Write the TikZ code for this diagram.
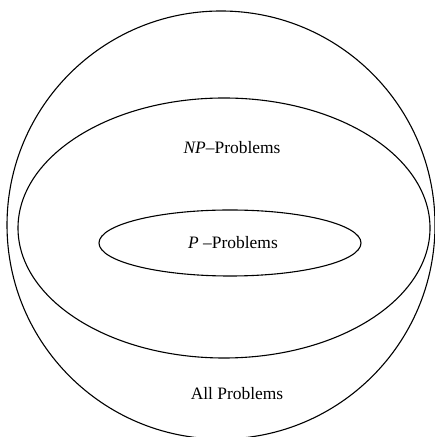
\documentclass[tikz,border=0pt]{standalone}
\usepackage{fontspec}
\setmainfont{Liberation Serif}
\begin{document}
\begin{tikzpicture}[x=1bp, y=1bp, line width=1.1bp,
    setlabel/.style={font=\fontsize{17.5}{20}\selectfont, inner sep=0pt}]
    % Frame
    \clip (0, 0) rectangle (435, 437);
    \useasboundingbox (0, 0) rectangle (435, 437);

    % All problems
    \draw (221, 212) circle (214);
    \node[setlabel] (all) at (237, 43) {All Problems};

    % NP problems
    \draw (224, 209) ellipse (206 and 130);
    \node[setlabel] (np) at (232, 289) {\textit{NP}--Problems};

    % P problems
    \draw (230, 194) ellipse (131 and 33);
    \node[setlabel] (p) at (233, 194) {\textit{P} --Problems};
\end{tikzpicture}
\end{document}
